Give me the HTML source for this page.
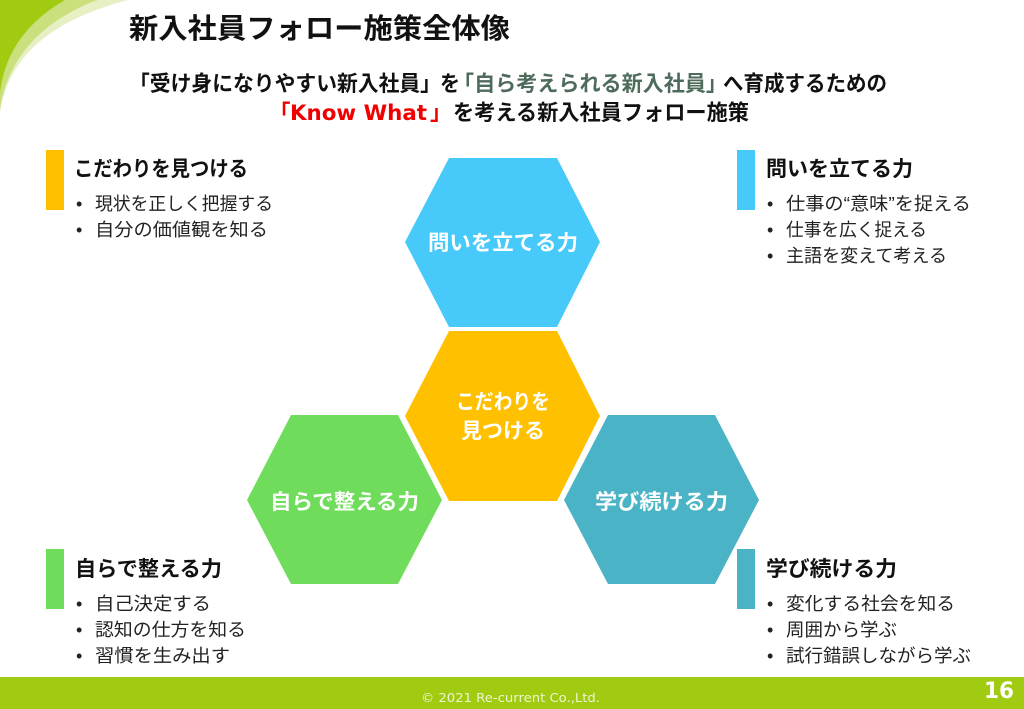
<!DOCTYPE html>
<html lang="ja">
<head>
<meta charset="utf-8">
<title>新入社員フォロー施策全体像</title>
<style>
html,body{margin:0;padding:0;background:#fff;width:1024px;height:709px;overflow:hidden}
svg{display:block}
text{font-family:"Liberation Sans","Noto Sans CJK JP",sans-serif;fill:#111}
.b{font-weight:700}
.h{font-weight:700;font-size:21px}
.l{font-size:18px;fill:#222}
.w{font-weight:700;font-size:21px;fill:#fff}
.s{font-weight:700;font-size:21.5px}
</style>
</head>
<body>
<svg width="1024" height="709" viewBox="0 0 1024 709" xmlns="http://www.w3.org/2000/svg">
<path d="M0 0H128C60 18 10 50 0 112Z" fill="#e7f0c4"/>
<path d="M0 0H97C45 20 8 55 0 110Z" fill="#c9e07c"/>
<path d="M0 0H65C30 20 5 50 0 93Z" fill="#a0cb10"/>

<text class="b" x="129" y="38" font-size="28" textLength="381" lengthAdjust="spacingAndGlyphs">新入社員フォロー施策全体像</text>

<text class="s" x="129" y="91" textLength="312" lengthAdjust="spacingAndGlyphs">「受け身になりやすい新入社員」</text>
<text class="s" x="440" y="91" textLength="20" lengthAdjust="spacingAndGlyphs">を</text>
<text class="s" x="453" y="91" textLength="274" lengthAdjust="spacingAndGlyphs" style="fill:#4f6b5c">「自ら考えられる新入社員」</text>
<text class="s" x="723" y="91" textLength="164" lengthAdjust="spacingAndGlyphs">へ育成するための</text>

<text class="s" x="269" y="120" style="fill:#f00000">「</text>
<text x="290" y="120" font-size="21" font-weight="700" textLength="137" lengthAdjust="spacingAndGlyphs" style="fill:#f00000;font-family:'DejaVu Sans',sans-serif">Know What</text>
<text class="s" x="430" y="120" style="fill:#f00000">」</text>
<text class="s" x="453" y="120" textLength="296" lengthAdjust="spacingAndGlyphs">を考える新入社員フォロー施策</text>

<polygon points="405,242 449,158 557,158 600,242 557,327 449,327" fill="#47c9f9"/>
<polygon points="405,416 449,331 557,331 600,416 557,501 449,501" fill="#ffc000"/>
<polygon points="247,500 291,415 398,415 442,500 398,584 291,584" fill="#70dc5c"/>
<polygon points="564,500 608,415 715,415 759,500 715,584 608,584" fill="#4bb3c6"/>

<text class="w" x="428" y="250" textLength="150" lengthAdjust="spacingAndGlyphs">問いを立てる力</text>
<text class="w" x="456" y="409" textLength="94" lengthAdjust="spacingAndGlyphs">こだわりを</text>
<text class="w" x="461" y="438" textLength="84" lengthAdjust="spacingAndGlyphs">見つける</text>
<text class="w" x="270" y="509" textLength="149" lengthAdjust="spacingAndGlyphs">自らで整える力</text>
<text class="w" x="595" y="509" textLength="133" lengthAdjust="spacingAndGlyphs">学び続ける力</text>

<rect x="46" y="150" width="18" height="60" fill="#ffc000"/>
<text class="h" x="74" y="176" textLength="174" lengthAdjust="spacingAndGlyphs">こだわりを見つける</text>
<text class="l" x="76" y="210">•</text><text class="l" x="95" y="210" textLength="178" lengthAdjust="spacingAndGlyphs">現状を正しく把握する</text>
<text class="l" x="76" y="236">•</text><text class="l" x="95" y="236" textLength="173" lengthAdjust="spacingAndGlyphs">自分の価値観を知る</text>

<rect x="737" y="150" width="18" height="60" fill="#47c9f9"/>
<text class="h" x="766" y="176" textLength="147" lengthAdjust="spacingAndGlyphs">問いを立てる力</text>
<text class="l" x="767" y="210">•</text><text class="l" x="786" y="210" textLength="185" lengthAdjust="spacingAndGlyphs">仕事の“意味”を捉える</text>
<text class="l" x="767" y="236">•</text><text class="l" x="786" y="236" textLength="141" lengthAdjust="spacingAndGlyphs">仕事を広く捉える</text>
<text class="l" x="767" y="262">•</text><text class="l" x="786" y="262" textLength="161" lengthAdjust="spacingAndGlyphs">主語を変えて考える</text>

<rect x="46" y="549" width="18" height="60" fill="#70dc5c"/>
<text class="h" x="75" y="576" textLength="147" lengthAdjust="spacingAndGlyphs">自らで整える力</text>
<text class="l" x="76" y="610">•</text><text class="l" x="95" y="610" textLength="116" lengthAdjust="spacingAndGlyphs">自己決定する</text>
<text class="l" x="76" y="636">•</text><text class="l" x="95" y="636" textLength="151" lengthAdjust="spacingAndGlyphs">認知の仕方を知る</text>
<text class="l" x="76" y="662">•</text><text class="l" x="95" y="662" textLength="135" lengthAdjust="spacingAndGlyphs">習慣を生み出す</text>

<rect x="737" y="549" width="18" height="60" fill="#4bb3c6"/>
<text class="h" x="766" y="576" textLength="131" lengthAdjust="spacingAndGlyphs">学び続ける力</text>
<text class="l" x="767" y="610">•</text><text class="l" x="786" y="610" textLength="169" lengthAdjust="spacingAndGlyphs">変化する社会を知る</text>
<text class="l" x="767" y="636">•</text><text class="l" x="786" y="636" textLength="111" lengthAdjust="spacingAndGlyphs">周囲から学ぶ</text>
<text class="l" x="767" y="662">•</text><text class="l" x="786" y="662" textLength="185" lengthAdjust="spacingAndGlyphs">試行錯誤しながら学ぶ</text>

<rect x="0" y="677" width="1024" height="32" fill="#a0cb10"/>
<text x="421" y="702" font-size="12" textLength="179" lengthAdjust="spacingAndGlyphs" style="fill:#eef4d0;font-family:'DejaVu Sans',sans-serif">© 2021 Re-current Co.,Ltd.</text>
<text x="984" y="698" font-size="22" font-weight="700" textLength="30" lengthAdjust="spacingAndGlyphs" style="fill:#fff;font-family:'DejaVu Sans',sans-serif">16</text>
</svg>
</body>
</html>
